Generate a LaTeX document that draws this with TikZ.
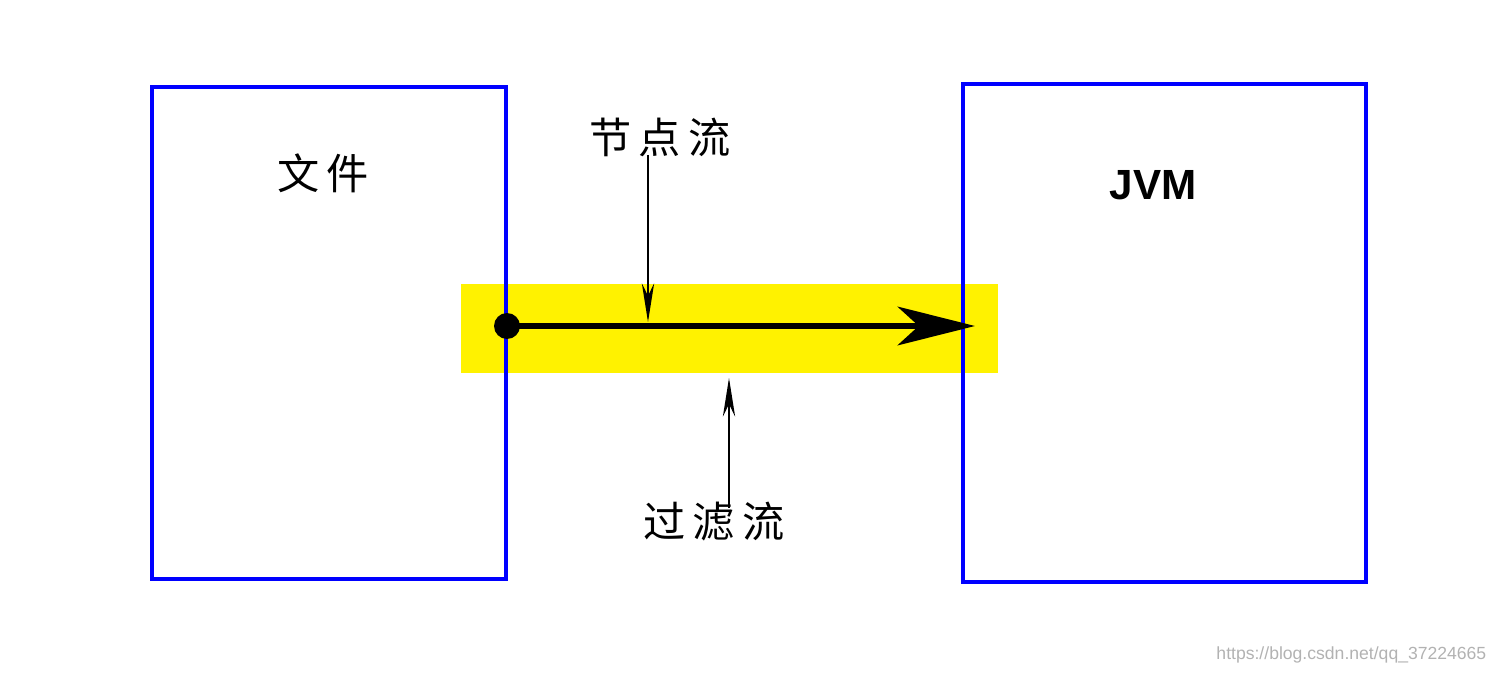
\documentclass[tikz,border=0pt]{standalone}
\usepackage{fontspec}
\setmainfont{Liberation Sans}
\newfontfamily\cjk{Noto Sans CJK SC}
\usetikzlibrary{arrows.meta}
\begin{document}
\begin{tikzpicture}[x=0.01cm,y=-0.01cm,
  box/.style={draw=blue,line width=0.9pt},
  lbl/.style={font=\cjk\fontsize{12}{14}\selectfont},
  thin/.style={line width=0.4pt,-{Stealth[length=11pt,width=3.5pt]}}]
\useasboundingbox (0,0) rectangle (1496,673);
\fill[yellow] (461,284) rectangle (998,373);
\draw[box] (152,87) rectangle (506,579);
\draw[box] (963,84) rectangle (1366,582);
\node[lbl] (wj) at (323,173) {文\,件};
\node[font=\bfseries\fontsize{12}{14}\selectfont] (jvm) at (1153,185) {JVM};
\fill (507,326) circle (13) coordinate (src);
\coordinate (dst) at (975,326);
\draw[line width=1.7pt,-{Stealth[length=22pt,width=11pt,inset=6pt]}] (src) -- (dst);
\node[lbl] (jd) at (660,137) {节\,点\,流};
\coordinate (jdend) at (648,322);
\draw[thin] (648,155) -- (jdend);
\node[lbl] (gl) at (714,522) {过\,滤\,流};
\coordinate (glend) at (729,378);
\draw[thin] (729,508) -- (glend);
\node[text=black!30,font=\fontsize{5}{6}\selectfont,anchor=east,inner sep=0pt] (wm) at (1487,655) {https://blog.csdn.net/qq\_37224665};
\end{tikzpicture}
\end{document}
